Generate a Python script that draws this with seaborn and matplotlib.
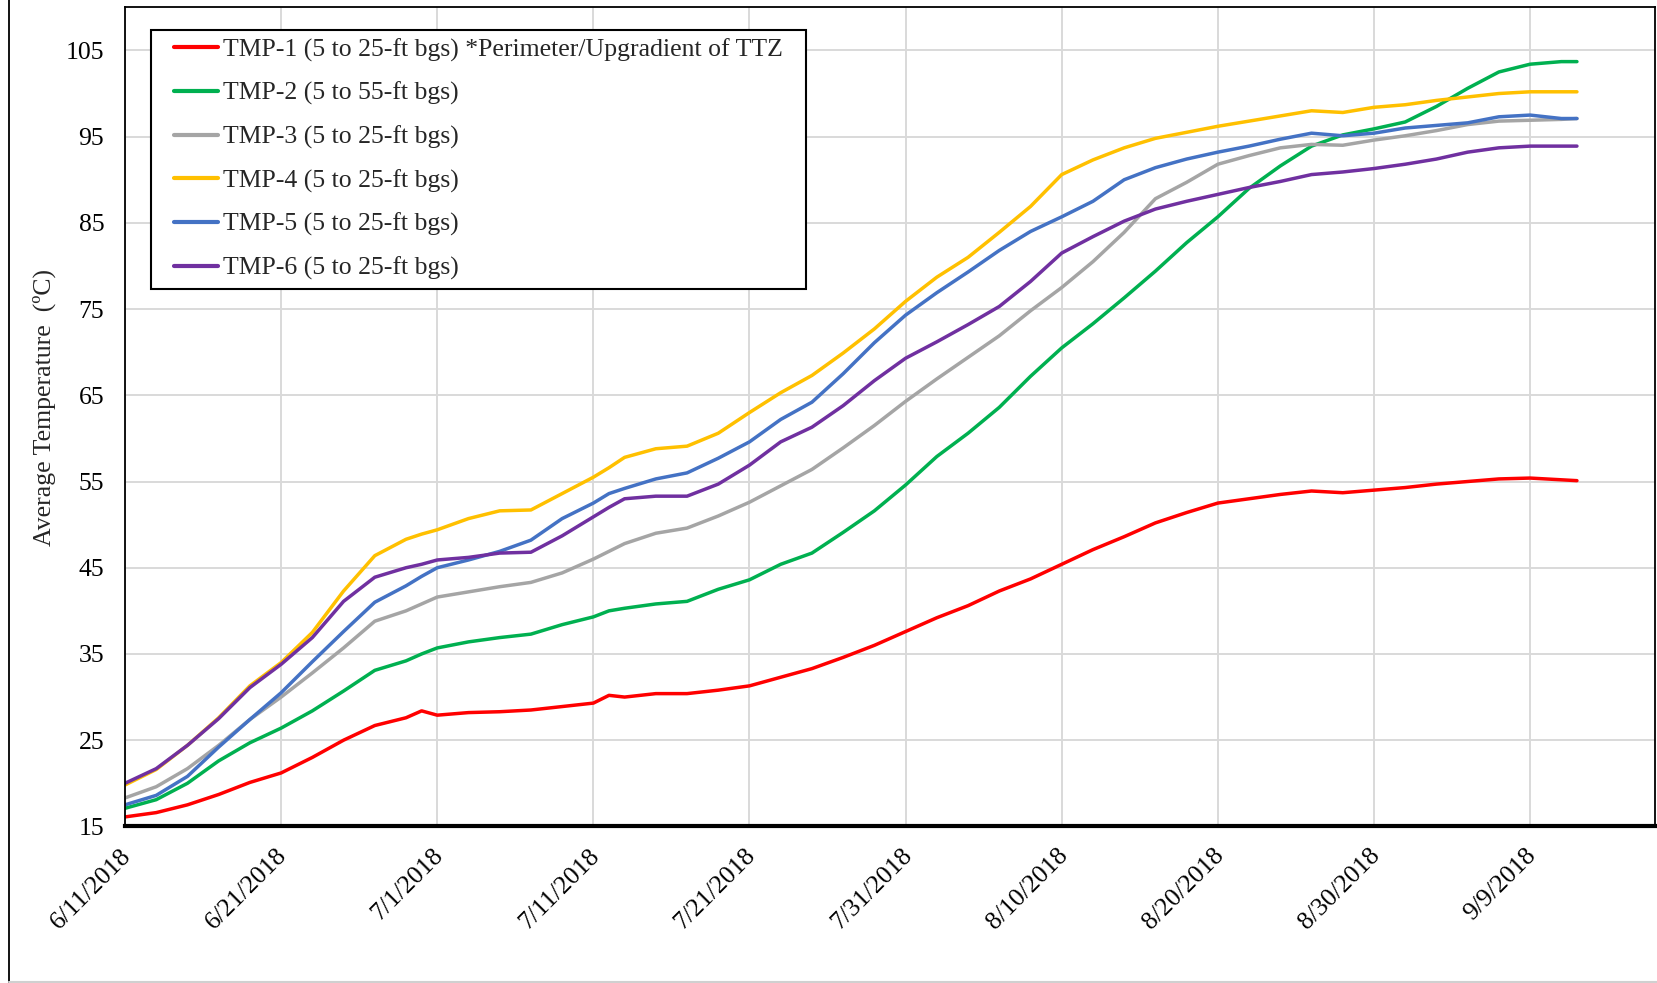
import numpy as np
import pandas as pd
import matplotlib
matplotlib.use("Agg")
import matplotlib.pyplot as plt
import seaborn as sns
from matplotlib.lines import Line2D
from matplotlib.patches import Rectangle
from matplotlib.transforms import ScaledTranslation

# ---------------- data ----------------
start_date = "2018-06-11"
day_offsets = [0, 2, 4, 6, 8, 10, 12, 14, 16, 18, 19, 20, 22, 24, 26, 28, 30, 31, 32, 34,
               36, 38, 40, 42, 44, 46, 48, 50, 52, 54, 56, 58, 60, 62, 64, 66, 68, 70, 72, 74,
               76, 78, 80, 82, 84, 86, 88, 90, 92, 93]

tmp1 = [16.1, 16.6, 17.5, 18.7, 20.1, 21.2, 23.0, 25.0, 26.7, 27.6, 28.4, 27.9, 28.2, 28.3, 28.5, 28.9, 29.3, 30.2, 30.0, 30.4,
        30.4, 30.8, 31.3, 32.3, 33.3, 34.6, 36.0, 37.6, 39.2, 40.6, 42.3, 43.7, 45.4, 47.1, 48.6, 50.2, 51.4, 52.5, 53.0, 53.5,
        53.9, 53.7, 54.0, 54.3, 54.7, 55.0, 55.3, 55.4, 55.2, 55.1]
tmp2 = [17.1, 18.1, 20.0, 22.6, 24.7, 26.4, 28.4, 30.7, 33.1, 34.2, 35.0, 35.7, 36.4, 36.9, 37.3, 38.4, 39.3, 40.0, 40.3, 40.8,
        41.1, 42.5, 43.6, 45.4, 46.7, 49.1, 51.6, 54.6, 57.9, 60.6, 63.6, 67.2, 70.5, 73.3, 76.3, 79.4, 82.7, 85.7, 89.0, 91.6,
        93.9, 95.2, 95.9, 96.7, 98.5, 100.6, 102.5, 103.4, 103.7, 103.7]
tmp3 = [18.3, 19.6, 21.7, 24.4, 27.4, 30.0, 32.8, 35.7, 38.8, 40.0, 40.8, 41.6, 42.2, 42.8, 43.3, 44.4, 46.0, 46.9, 47.8, 49.0,
        49.6, 51.0, 52.6, 54.5, 56.4, 58.9, 61.5, 64.3, 66.9, 69.4, 71.9, 74.8, 77.5, 80.5, 83.9, 87.8, 89.7, 91.8, 92.8, 93.7,
        94.1, 94.0, 94.6, 95.1, 95.7, 96.4, 96.8, 96.9, 97.0, 97.1]
tmp4 = [19.8, 21.6, 24.4, 27.6, 31.3, 34.0, 37.5, 42.3, 46.4, 48.3, 48.9, 49.4, 50.7, 51.6, 51.7, 53.6, 55.5, 56.6, 57.8, 58.8,
        59.1, 60.6, 63.0, 65.3, 67.3, 69.9, 72.7, 75.9, 78.7, 81.0, 83.9, 86.9, 90.6, 92.3, 93.7, 94.8, 95.5, 96.2, 96.8, 97.4,
        98.0, 97.8, 98.4, 98.7, 99.2, 99.6, 100.0, 100.2, 100.2, 100.2]
tmp5 = [17.5, 18.6, 20.8, 24.2, 27.4, 30.5, 34.1, 37.6, 41.0, 42.9, 44.0, 45.0, 45.9, 46.9, 48.2, 50.7, 52.5, 53.6, 54.2, 55.3,
        56.0, 57.7, 59.6, 62.2, 64.2, 67.5, 71.1, 74.3, 76.9, 79.3, 81.8, 84.0, 85.7, 87.5, 90.0, 91.4, 92.4, 93.2, 93.9, 94.7,
        95.4, 95.1, 95.4, 96.0, 96.3, 96.6, 97.3, 97.5, 97.1, 97.1]
tmp6 = [20.0, 21.7, 24.4, 27.5, 31.1, 33.8, 36.9, 41.1, 43.9, 45.0, 45.4, 45.9, 46.2, 46.7, 46.8, 48.7, 50.9, 52.0, 53.0, 53.3,
        53.3, 54.7, 56.9, 59.6, 61.3, 63.8, 66.7, 69.3, 71.2, 73.2, 75.3, 78.2, 81.5, 83.4, 85.2, 86.6, 87.5, 88.3, 89.1, 89.8,
        90.6, 90.9, 91.3, 91.8, 92.4, 93.2, 93.7, 93.9, 93.9, 93.9]

series_names = ["TMP-1 (5 to 25-ft bgs) *Perimeter/Upgradient of TTZ",
                "TMP-2 (5 to 55-ft bgs)",
                "TMP-3 (5 to 25-ft bgs)",
                "TMP-4 (5 to 25-ft bgs)",
                "TMP-5 (5 to 25-ft bgs)",
                "TMP-6 (5 to 25-ft bgs)"]
series_colors = ["#FF0000", "#00B050", "#A5A5A5", "#FFC000", "#4472C4", "#7030A0"]
y_ticks = [15, 25, 35, 45, 55, 65, 75, 85, 95, 105]
x_tick_offsets = [0, 10, 20, 30, 40, 50, 60, 70, 80, 90]
y_label = "Average Temperature  (\u00baC)"

# ---------------- build frame ----------------
start = pd.Timestamp(start_date)
dates = start + pd.to_timedelta(day_offsets, unit="D")
frames = []
for name, vals in zip(series_names, [tmp1, tmp2, tmp3, tmp4, tmp5, tmp6]):
    frames.append(pd.DataFrame({"Date": dates, "Temp": vals, "Series": name}))
df = pd.concat(frames, ignore_index=True)

sns.set_style("white")
plt.rcParams["font.family"] = ["Liberation Serif", "DejaVu Serif"]
FS = 18.5

fig = plt.figure(figsize=(16.57, 9.83), dpi=100)
ax = fig.add_axes([125 / 1657, 1 - 826.4 / 983, (1655 - 125) / 1657, (826.4 - 7.3) / 983])

sns.lineplot(data=df, x="Date", y="Temp", hue="Series", hue_order=series_names,
             palette=dict(zip(series_names, series_colors)), linewidth=2.5,
             estimator=None, sort=False, ax=ax)

ax.set_xlim(start, start + pd.Timedelta(days=98))
ax.set_ylim(15, 110)
ax.set_yticks(y_ticks)
xt = [start + pd.Timedelta(days=d) for d in x_tick_offsets]
ax.set_xticks(xt)
ax.set_xticklabels([f"{d.month}/{d.day}/{d.year}" for d in xt], rotation=45,
                   ha="right", va="top", rotation_mode="anchor")
ax.grid(True, color="#D9D9D9", linewidth=1.4)
ax.set_axisbelow(True)
for s in ["top", "right", "left"]:
    ax.spines[s].set_color("black")
    ax.spines[s].set_linewidth(1.3)
ax.spines["bottom"].set_color("black")
ax.spines["bottom"].set_linewidth(3)
ax.tick_params(axis="both", length=0, labelsize=FS, colors="black")
ax.tick_params(axis="y", pad=15)
ax.tick_params(axis="x", pad=13)
shift = ScaledTranslation(-5 / 100, 0, fig.dpi_scale_trans)
for lab in ax.get_xticklabels():
    lab.set_transform(lab.get_transform() + shift)
ax.set_xlabel("")
ax.set_ylabel(y_label, fontsize=FS)
ax.yaxis.set_label_coords(-0.045, 0.512)

handles, labels = ax.get_legend_handles_labels()
leg = ax.legend(handles, labels, loc="upper left", bbox_to_anchor=(0.032, 0.9623),
                frameon=False, fontsize=FS,
                handlelength=1.7, handletextpad=0.2, labelspacing=0.79,
                borderpad=0.0, borderaxespad=0)
for h in leg.get_lines():
    h.set_linewidth(3)
leg.set_zorder(6)

# legend frame with Excel-like padding around the entries
fig.canvas.draw()
bb = leg.get_window_extent()
pad_x, pad_y = 23, 8.5
x0, y0 = fig.transFigure.inverted().transform((bb.x0 - pad_x, bb.y0 - pad_y))
x1, y1 = fig.transFigure.inverted().transform((bb.x1 + pad_x, bb.y1 + pad_y))
frame = Rectangle((x0, y0), x1 - x0, y1 - y0, transform=fig.transFigure,
                  facecolor="white", edgecolor="black", linewidth=1.5,
                  zorder=5.5, clip_on=False)
ax.add_patch(frame)

fig.add_artist(Line2D([8.5 / 1657, 8.5 / 1657], [0, 1], transform=fig.transFigure,
                      color="black", linewidth=1.3))
fig.add_artist(Line2D([8.5 / 1657, 1], [1.5 / 983, 1.5 / 983], transform=fig.transFigure,
                      color="#D0D0D0", linewidth=1.5))

fig.savefig("out.png", dpi=100)
